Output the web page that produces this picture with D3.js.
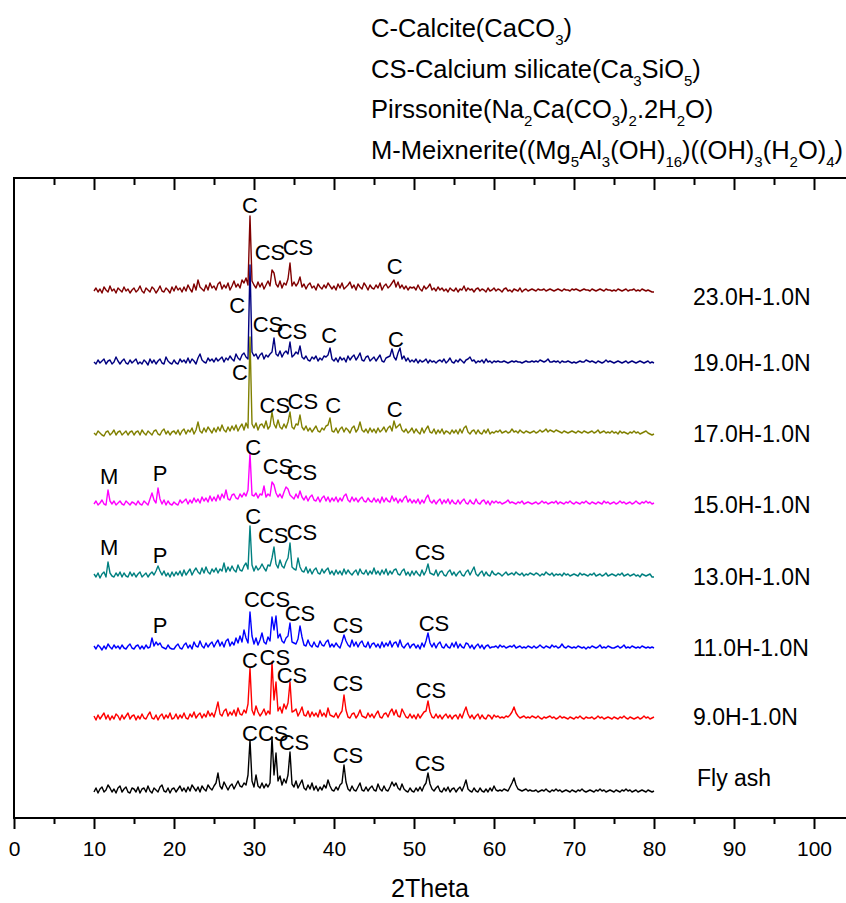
<!DOCTYPE html>
<html>
<head>
<meta charset="utf-8">
<script src="https://cdn.jsdelivr.net/npm/d3@7"></script>
<style>
  body { margin: 0; background: #fff; }
  svg { display: block; }
  text { font-family: Arial, "Liberation Sans", sans-serif; fill: #000; }
</style>
</head>
<body>
<svg id="chart" width="846" height="903"></svg>
<script>
// Diffraction patterns, sampled every 0.25 degrees 2-theta from 10 to 80 (arbitrary intensity units).
const angleStart = 10;
const angleStep = 0.25;

const sampleNames = ["23.0H-1.0N", "19.0H-1.0N", "17.0H-1.0N", "15.0H-1.0N",
                     "13.0H-1.0N", "11.0H-1.0N", "9.0H-1.0N", "Fly ash"];
const sampleColors = ["#800000", "#000080", "#808000", "#ff00ff",
                      "#008080", "#0000ff", "#ff0000", "#000000"];
// vertical stacking of each pattern (intensity units)
const stackOffset = [523, 451, 380, 310, 238, 166, 96, 23];

const h23 = [
  4,7,3,6,2,8,5,3,9,4,6,2,7,5,3,8,4,6,2,5,
  7,3,5,9,4,2,7,5,3,8,6,2,5,9,4,3,7,5,2,8,
  4,9,5,7,3,8,4,10,6,3,11,5,15,8,6,4,10,5,12,7,
  9,5,11,13,6,10,7,12,5,9,14,8,11,7,15,12,17,10,79,14,
  10,7,13,8,12,6,10,14,9,25,22,11,8,14,7,12,10,16,32,9,
  13,9,12,18,8,11,6,10,12,7,9,5,11,8,6,10,7,12,9,6,
  9,5,11,7,12,6,8,10,13,7,10,5,11,8,6,12,9,5,10,7,
  6,10,7,12,5,9,11,7,9,12,15,8,13,7,10,6,9,5,8,7,
  8,5,10,6,4,9,6,8,11,5,7,4,8,5,7,4,6,3,7,5,
  4,7,3,6,5,9,4,7,5,6,3,6,7,4,6,5,3,7,4,5,
  7,4,6,5,3,6,7,4,5,3,6,5,4,7,3,5,6,4,5,6,
  5,4,6,5,5,6,4,5,6,5,4,5,6,5,4,6,5,5,4,6,
  5,6,5,4,5,6,5,5,4,6,5,4,5,6,5,4,6,5,5,4,
  5,4,6,5,4,5,6,4,5,5,6,4,5,4,6,5,4,5,4,3,
  3
];
const h19 = [
  5,3,7,4,6,8,3,6,7,3,5,10,6,3,6,8,4,3,7,4,
  6,8,3,5,3,7,5,2,8,4,7,3,6,8,4,3,10,6,4,3,
  7,4,3,8,5,7,4,9,4,8,6,3,9,13,7,5,4,9,6,8,
  5,9,6,8,10,5,9,7,11,8,6,13,9,7,12,14,10,8,102,15,
  11,13,8,12,14,8,12,10,13,15,29,13,11,16,10,14,16,13,25,10,
  12,15,13,21,10,8,11,7,6,10,8,11,6,9,7,11,10,12,19,8,
  6,9,5,10,7,9,5,11,7,10,12,7,10,14,7,6,10,11,6,8,
  10,6,9,12,6,5,9,10,11,18,10,7,14,19,8,11,6,9,5,7,
  5,8,4,7,5,6,8,4,7,5,6,4,6,7,5,8,4,6,9,5,
  4,7,5,8,6,4,7,8,10,6,7,4,6,5,7,4,8,5,6,4,
  6,5,6,5,5,6,5,4,5,6,5,6,5,5,4,5,6,5,5,6,
  5,6,5,7,6,5,6,8,5,5,6,5,6,4,6,5,5,6,5,4,
  5,4,5,6,5,5,7,6,5,6,5,4,6,5,4,5,7,5,6,5,
  4,5,6,5,4,5,6,4,5,6,5,4,5,6,5,4,5,6,4,5,
  4
];
const h17 = [
  5,3,7,5,3,2,6,7,3,5,8,3,6,7,3,5,7,3,6,7,
  3,6,7,3,8,5,3,7,5,3,7,8,4,3,7,9,4,7,3,6,
  7,4,8,3,7,9,4,8,6,10,4,8,16,7,5,10,6,11,8,5,
  10,6,11,7,13,8,6,11,7,12,8,13,7,11,14,8,15,10,101,14,
  10,15,8,13,14,10,17,9,12,26,14,10,18,11,9,14,10,16,26,11,
  9,14,13,23,11,8,12,7,10,6,9,12,7,6,10,8,12,13,20,7,
  6,10,5,9,11,6,10,8,5,10,12,6,9,16,8,6,9,5,10,6,
  9,5,10,6,8,11,6,10,12,7,17,10,12,14,8,6,9,5,7,10,
  5,9,6,4,10,5,9,12,6,5,9,4,8,5,9,4,7,6,4,8,
  5,8,4,9,5,10,12,6,4,7,8,4,8,5,4,8,5,9,4,6,
  5,7,6,8,5,6,7,5,6,9,6,7,5,8,6,5,7,6,5,6,
  7,5,6,8,6,7,9,6,8,7,6,8,7,6,5,7,6,5,6,7,
  6,5,7,6,5,7,6,5,6,7,5,6,8,5,6,7,5,6,5,7,
  5,6,4,7,5,6,5,4,6,5,7,5,6,4,5,6,7,5,4,3,
  4
];
const h15 = [
  4,7,3,5,8,4,3,18,7,4,7,3,5,7,4,3,7,5,3,6,
  5,3,7,4,3,7,5,3,9,15,8,5,20,9,4,8,3,7,4,3,
  6,4,3,8,5,7,9,4,8,5,10,6,9,5,11,7,10,6,12,7,
  11,7,13,8,14,10,18,9,8,13,14,10,9,14,11,15,12,18,55,13,
  12,15,10,14,13,22,11,14,12,26,23,15,11,14,10,16,21,19,13,11,
  9,14,10,17,11,8,12,7,11,13,8,7,11,6,10,12,7,11,6,10,
  7,11,6,10,7,12,14,8,6,11,7,10,6,9,11,7,6,10,7,6,
  10,6,9,5,11,6,10,7,6,12,7,10,5,9,6,10,12,6,9,5,
  8,5,9,4,8,5,10,13,7,5,8,4,7,9,4,8,5,9,4,8,
  5,4,8,4,7,9,5,4,8,5,4,9,5,4,7,8,4,7,3,7,
  5,7,5,6,4,5,6,8,5,6,5,4,6,5,7,4,5,6,5,4,
  5,6,4,5,7,5,6,4,5,6,5,7,4,6,5,4,6,5,7,5,
  4,6,5,4,6,5,7,5,4,6,5,4,6,5,4,7,5,6,4,5,
  6,4,5,7,5,6,4,5,6,4,5,7,5,4,6,5,7,5,6,4,
  5
];
const h13 = [
  6,3,7,2,6,8,3,18,7,4,3,7,4,8,3,7,4,3,8,4,
  7,3,6,8,3,5,7,3,6,8,5,9,14,9,5,9,4,7,3,8,
  4,8,5,9,4,10,5,8,11,5,9,12,8,6,12,7,13,8,6,11,
  8,12,7,11,9,17,8,13,9,14,10,8,15,10,9,14,17,11,54,15,
  9,14,10,12,16,12,9,15,14,22,33,16,12,20,14,12,18,22,37,13,
  11,10,22,13,9,8,13,7,11,6,10,12,7,6,11,7,10,12,6,9,
  5,10,6,9,5,11,6,10,7,5,8,10,5,11,7,6,10,5,9,6,
  12,6,9,5,10,6,11,5,9,6,10,11,6,5,9,11,5,8,4,9,
  5,9,6,4,10,5,9,16,7,6,5,10,4,8,9,5,4,8,10,5,
  8,4,7,9,5,4,8,10,5,9,13,6,4,7,9,4,8,5,4,9,
  6,5,7,6,4,6,8,5,6,7,5,8,6,5,7,4,6,5,7,6,
  5,7,6,4,6,5,8,6,5,7,4,6,5,6,4,7,5,6,4,5,
  6,5,4,7,5,6,5,4,6,5,7,4,5,6,4,5,7,4,5,6,
  5,4,6,5,7,4,5,6,4,5,6,4,5,3,6,5,4,5,6,3,
  3
];
const h11 = [
  6,3,7,5,2,6,3,8,5,3,7,4,6,3,7,4,3,6,8,4,
  3,6,7,3,6,3,7,4,5,14,6,10,7,9,5,4,3,7,4,3,
  3,6,8,4,3,7,9,4,7,3,10,6,5,11,6,4,9,5,8,10,
  5,9,12,6,10,5,11,13,6,10,7,14,9,16,10,22,14,9,40,16,
  8,14,7,12,19,10,8,15,11,35,22,36,14,18,11,9,14,16,29,10,
  9,8,13,26,15,7,6,12,7,5,10,6,5,11,7,6,10,12,5,8,
  5,9,6,4,10,17,11,7,5,12,6,10,5,9,11,6,5,10,4,8,
  9,5,8,4,10,5,9,6,11,5,9,10,5,12,6,4,7,9,4,7,
  8,4,7,3,9,5,11,19,9,5,9,4,8,10,5,4,8,5,4,9,
  5,10,4,8,5,4,9,8,4,7,3,6,8,4,7,3,6,7,4,5,
  5,6,4,7,5,6,4,5,6,5,7,4,5,6,4,5,4,6,5,4,
  6,4,5,7,5,4,6,5,4,7,5,6,4,5,8,5,4,6,5,4,
  5,4,6,5,4,5,3,5,4,6,5,4,5,7,4,5,4,6,5,4,
  4,5,6,4,5,7,4,5,4,6,5,4,5,4,6,5,4,5,4,5,
  4
];
const h9 = [
  6,2,7,3,6,9,3,7,2,6,3,8,6,2,7,3,6,9,3,6,
  7,2,6,3,8,4,3,7,10,4,3,7,2,6,8,3,7,4,9,3,
  4,8,3,7,4,9,4,3,8,5,10,4,7,9,4,8,5,11,6,9,
  5,12,20,8,6,11,13,6,10,7,12,6,14,8,7,12,9,18,54,12,
  7,16,10,6,9,13,7,11,8,60,22,40,11,15,9,18,13,19,40,10,
  11,13,6,10,15,7,6,11,5,10,6,9,5,12,6,9,5,14,7,6,
  5,9,4,8,11,27,12,5,4,8,9,4,7,12,6,5,4,9,5,8,
  4,8,11,5,4,8,9,5,10,13,7,12,6,5,13,9,5,4,8,4,
  7,3,8,4,7,10,11,21,10,5,4,8,4,7,3,6,8,4,7,3,
  6,7,3,8,4,10,15,8,4,7,3,6,8,3,7,4,3,7,6,3,
  7,5,6,4,5,4,6,5,7,10,15,9,6,4,5,6,4,5,4,6,
  5,4,6,4,3,5,4,5,6,4,5,3,4,6,4,5,4,3,5,4,
  3,5,4,6,4,3,5,4,4,5,3,4,6,4,5,3,4,5,4,3,
  5,4,3,5,4,6,4,3,5,4,3,4,5,3,4,6,4,5,3,4,
  5
];
const flyAsh = [
  3,7,2,6,8,3,5,10,7,3,6,2,7,9,3,6,8,3,2,7,
  6,3,8,2,6,7,3,9,4,2,7,5,3,8,10,4,3,7,2,6,
  7,3,6,9,4,7,3,8,4,10,7,4,8,3,9,6,4,10,7,5,
  9,12,22,9,6,13,9,5,9,11,6,10,14,9,8,12,10,20,55,14,
  8,20,9,7,12,7,11,8,12,58,20,42,14,19,10,16,12,20,43,11,
  8,14,7,11,15,7,5,10,6,12,5,9,4,8,5,10,7,15,9,5,
  4,8,5,10,12,30,13,6,4,9,5,4,8,12,5,4,8,4,7,9,
  5,4,11,6,4,9,5,4,8,13,9,12,7,5,11,6,4,3,7,4,
  3,7,4,8,4,9,12,22,11,6,4,7,9,4,3,7,4,8,3,6,
  7,3,6,8,4,9,15,6,4,3,7,4,3,7,4,3,6,3,7,4,
  9,5,4,5,4,6,5,4,8,12,17,10,6,5,4,5,6,4,5,4,
  4,5,3,4,5,4,6,4,3,5,4,6,4,5,3,4,5,4,3,5,
  4,3,5,4,6,4,3,4,5,4,3,5,4,6,4,5,3,4,5,4,
  3,5,4,3,5,4,6,4,5,3,4,5,3,4,5,4,3,5,4,3,
  4
];
const patterns = [h23, h19, h17, h15, h13, h11, h9, flyAsh];

// Phase markers: pattern index, 2-theta, height above the pattern's zero, label
const phaseMarks = [
  [0, 29.5, 90, "C"], [0, 32.0, 43, "CS"], [0, 35.5, 48, "CS"], [0, 47.6, 29, "C"],
  [1, 27.9, 62, "C"], [1, 31.75, 43, "CS"], [1, 34.75, 36, "CS"], [1, 39.4, 32, "C"], [1, 47.75, 28, "C"],
  [2, 28.25, 66, "C"], [2, 32.6, 33, "CS"], [2, 36.1, 37, "CS"], [2, 39.9, 33, "C"], [2, 47.6, 29, "C"],
  [3, 11.9, 32, "M"], [3, 18.25, 35, "P"], [3, 29.9, 61, "C"], [3, 33.0, 42, "CS"], [3, 36.0, 36, "CS"],
  [4, 11.9, 33, "M"], [4, 18.25, 25, "P"], [4, 29.9, 64, "C"], [4, 32.4, 45, "CS"], [4, 36.0, 48, "CS"], [4, 52.0, 28, "CS"],
  [5, 18.25, 27, "P"], [5, 29.75, 53, "C"], [5, 32.6, 53, "CS"], [5, 35.75, 39, "CS"], [5, 41.75, 27, "CS"], [5, 52.5, 29, "CS"],
  [6, 29.5, 62, "C"], [6, 32.6, 65, "CS"], [6, 34.75, 47, "CS"], [6, 41.75, 39, "CS"], [6, 52.1, 32, "CS"],
  [7, 29.5, 62, "C"], [7, 32.4, 62, "CS"], [7, 35.0, 53, "CS"], [7, 41.75, 40, "CS"], [7, 52.0, 32, "CS"]
];

const legendLines = [
  "C-Calcite(CaCO_{3})",
  "CS-Calcium silicate(Ca_{3}SiO_{5})",
  "Pirssonite(Na_{2}Ca(CO_{3})_{2}.2H_{2}O)",
  "M-Meixnerite((Mg_{5}Al_{3}(OH)_{16})((OH)_{3}(H_{2}O)_{4})"
];

const xTicks = d3.range(0, 101, 10);
const xMinorTicks = d3.range(5, 100, 10);

// ---- layout ----
const svg = d3.select("#chart");
const plotLeft = 14, plotRight = 847, plotTop = 178, plotBottom = 818;

const x = d3.scaleLinear().domain([0, 100]).range([plotLeft, 814]);
const y = d3.scaleLinear().domain([0, 640]).range([plotBottom, plotTop]);

// patterns
const line = d3.line()
  .x((d, i) => x(angleStart + i * angleStep))
  .y(d => d);

patterns.forEach((vals, k) => {
  const ys = vals.map(v => y(v + stackOffset[k]));
  svg.append("path")
    .attr("d", line(ys))
    .attr("fill", "none")
    .attr("stroke", sampleColors[k])
    .attr("stroke-width", 1.4)
    .attr("stroke-linejoin", "round");
});

// phase labels
svg.append("g").selectAll("text").data(phaseMarks).join("text")
  .attr("x", d => x(d[1]))
  .attr("y", d => y(d[2] + stackOffset[d[0]]))
  .attr("text-anchor", "middle")
  .attr("dominant-baseline", "central")
  .attr("font-size", 22)
  .text(d => d[3]);

// sample names to the right of each pattern
const nameLift = [-2, 4, 4, 3, 3, 4, 5, 17];
svg.append("g").selectAll("text").data(sampleNames).join("text")
  .attr("x", (d, i) => i === 7 ? 697 : 693)
  .attr("y", (d, i) => y(stackOffset[i] + nameLift[i]))
  .attr("dominant-baseline", "central")
  .attr("font-size", 23)
  .text(d => d);

// frame
svg.append("path")
  .attr("d", `M${plotLeft},${plotTop}H${plotRight}M${plotLeft},${plotBottom}H${plotRight}M${plotLeft},${plotTop - 1}V${plotBottom + 1}`)
  .attr("stroke", "#000").attr("stroke-width", 2).attr("fill", "none");

function tickAxis(yPos, values, size, labelled) {
  const ax = d3.axisBottom(x).tickValues(values).tickSize(size).tickPadding(12)
    .tickFormat(labelled ? d3.format("d") : "");
  const g = svg.append("g").attr("transform", `translate(0,${yPos})`).call(ax);
  g.select(".domain").remove();
  g.selectAll("line").attr("stroke-width", 2);
  if (labelled) {
    g.selectAll("text").attr("font-size", 21).attr("font-family", "Arial, 'Liberation Sans', sans-serif");
  } else {
    g.selectAll("text").remove();
  }
  return g;
}
// bottom axis (outward ticks) and top axis (inward ticks)
tickAxis(plotBottom, xTicks, 11, true);
tickAxis(plotBottom, xMinorTicks, 6, false);
tickAxis(plotTop, xTicks.filter(v => v > 0), 12, false);
tickAxis(plotTop, xMinorTicks, 7, false);

// axis title
svg.append("text")
  .attr("x", 430).attr("y", 897)
  .attr("text-anchor", "middle")
  .attr("font-size", 25)
  .text("2Theta");

// legend with chemical subscripts
const subShift = 8;
legendLines.forEach((str, i) => {
  const t = svg.append("text")
    .attr("x", 371).attr("y", 37 + i * 40.7)
    .attr("font-size", 25.5);
  const parts = str.split(/_\{([^}]*)\}/);
  let lowered = false;
  parts.forEach((p, j) => {
    if (!p) return;
    const isSub = j % 2 === 1;
    const span = t.append("tspan").text(p);
    if (isSub) {
      span.attr("font-size", 15).attr("dy", lowered ? 0 : subShift);
      lowered = true;
    } else if (lowered) {
      span.attr("dy", -subShift);
      lowered = false;
    }
  });
});
</script>
</body>
</html>
